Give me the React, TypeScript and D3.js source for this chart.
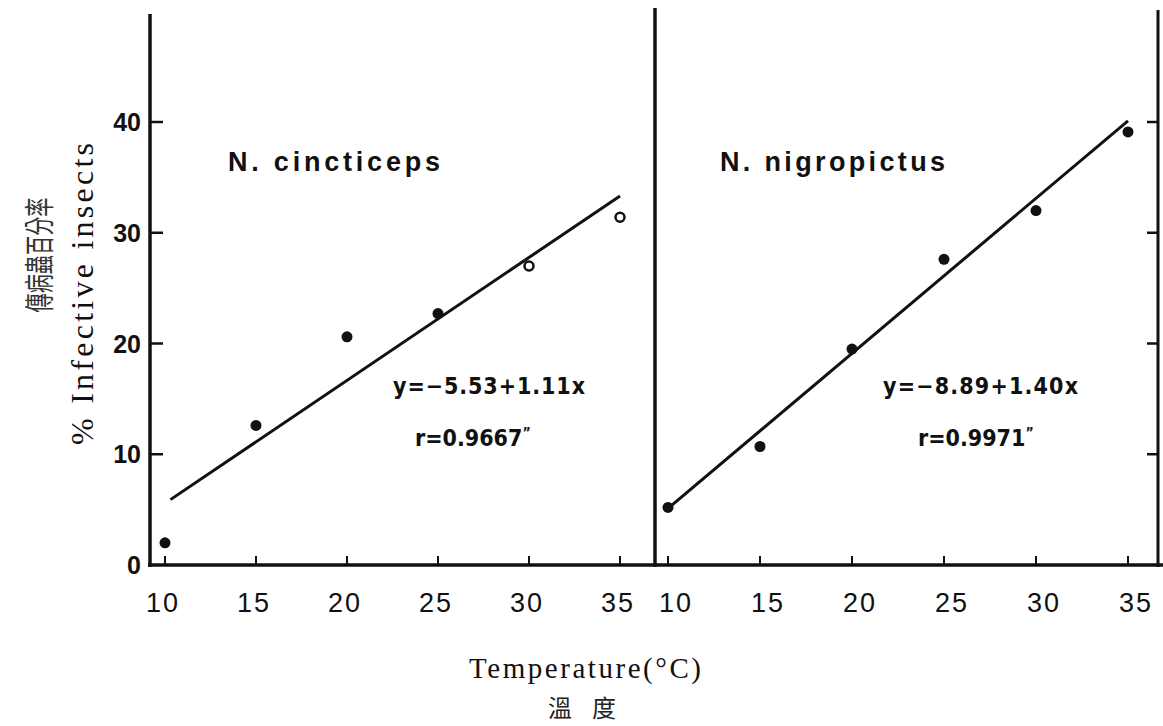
import * as d3 from "d3";

const temps = [10, 15, 20, 25, 30, 35];
const cincticeps = [2.0, 12.6, 20.6, 22.7, 27.0, 31.4];
const cincticepsOpen = [false, false, false, false, true, true];
const nigropictus = [5.2, 10.7, 19.5, 27.6, 32.0, 39.1];
const yTicks = [0, 10, 20, 30, 40];
// regression: intercept, slope, x range drawn
const fitC = [-5.53, 1.11];
const fitN = [-8.89, 1.40];
const rangeC = [10.3, 35];
const rangeN = [10.1, 35];

const W = 1163;
const H = 726;

const sans = "'Liberation Sans', Arial, sans-serif";
const cond = "'DejaVu Sans Condensed', 'Liberation Sans Narrow', 'DejaVu Sans', sans-serif";
const serif = "'Liberation Serif', 'DejaVu Serif', serif";
const cjk = "'Noto Sans CJK TC', 'Noto Sans CJK JP', serif";

export default function App() {
  const y = d3.scaleLinear().domain([0, 40]).range([565, 122]);
  const xL = d3.scaleLinear().domain([10, 35]).range([165, 620]);
  const xR = d3.scaleLinear().domain([10, 35]).range([668, 1128]);
  const base = y(0);

  const fitLine = (x: d3.ScaleLinear<number, number>, fit: number[], r: number[]) =>
    d3.line<number>()
      .x(d => x(d))
      .y(d => y(fit[0] + fit[1] * d))(r) as string;

  const ink = "#111";

  return (
    <svg width={W} height={H} style={{ position: "absolute", left: 0, top: 0, background: "#fff" }}>
      {/* axes frame */}
      <line x1={150} x2={150} y1={14} y2={base + 2} stroke={ink} strokeWidth={3.5} />
      <line x1={655} x2={655} y1={8} y2={base + 2} stroke={ink} strokeWidth={3.5} />
      <line x1={1158} x2={1158} y1={10} y2={base + 2} stroke={ink} strokeWidth={3} />
      <line x1={148} x2={W} y1={base} y2={base} stroke={ink} strokeWidth={3.5} />

      {/* left y ticks + labels */}
      {yTicks.map(t => (
        <g key={"yl" + t}>
          {t > 0 && <line x1={150} x2={163} y1={y(t)} y2={y(t)} stroke={ink} strokeWidth={2.5} />}
          <text x={141} y={y(t)} dy="0.36em" textAnchor="end" fontFamily={sans}
            fontWeight="bold" fontSize={25} fill={ink}>{t}</text>
        </g>
      ))}
      {/* right y ticks */}
      {yTicks.filter(t => t > 0).map(t => (
        <line key={"yr" + t} x1={1147} x2={1158} y1={y(t)} y2={y(t)} stroke={ink} strokeWidth={2.5} />
      ))}

      {/* x ticks + labels */}
      {temps.map(t => (
        <g key={"x" + t}>
          <line x1={xL(t)} x2={xL(t)} y1={base} y2={base - 9} stroke={ink} strokeWidth={2} />
          <line x1={xR(t)} x2={xR(t)} y1={base} y2={base - 9} stroke={ink} strokeWidth={2} />
          <text x={xL(t) - 2} y={612} textAnchor="middle" fontFamily={sans} fontSize={27}
            letterSpacing={2} fill={ink}>{t}</text>
          <text x={xR(t) + 8} y={612} textAnchor="middle" fontFamily={sans} fontSize={27}
            letterSpacing={2} fill={ink}>{t}</text>
        </g>
      ))}

      {/* regression lines */}
      <path d={fitLine(xL, fitC, rangeC)} stroke={ink} strokeWidth={3} fill="none" />
      <path d={fitLine(xR, fitN, rangeN)} stroke={ink} strokeWidth={3} fill="none" />

      {/* points */}
      {temps.map((t, i) => (
        cincticepsOpen[i]
          ? <circle key={"c" + t} cx={xL(t)} cy={y(cincticeps[i])} r={4.5} fill="#fff" stroke={ink} strokeWidth={2.5} />
          : <circle key={"c" + t} cx={xL(t)} cy={y(cincticeps[i])} r={5.5} fill={ink} />
      ))}
      {temps.map((t, i) => (
        <circle key={"n" + t} cx={xR(t)} cy={y(nigropictus[i])} r={5.5} fill={ink} />
      ))}

      {/* panel titles */}
      <text x={228} y={171} fontFamily={sans} fontWeight="bold" fontSize={27} textLength={212}
        lengthAdjust="spacing" fill={ink}>N. cincticeps</text>
      <text x={720} y={171} fontFamily={sans} fontWeight="bold" fontSize={27} textLength={225}
        lengthAdjust="spacing" fill={ink}>N. nigropictus</text>

      {/* equations */}
      <text x={393} y={394} fontFamily={cond} fontWeight="bold" fontSize={23} textLength={192} lengthAdjust="spacing" fill={ink}>y=−5.53+1.11x</text>
      <text x={415} y={446} fontFamily={cond} fontWeight="bold" fontSize={23} fill={ink}>r=0.9667<tspan dy={-9} fontSize={14}>”</tspan></text>
      <text x={883} y={394} fontFamily={cond} fontWeight="bold" fontSize={23} textLength={195} lengthAdjust="spacing" fill={ink}>y=−8.89+1.40x</text>
      <text x={918} y={446} fontFamily={cond} fontWeight="bold" fontSize={23} fill={ink}>r=0.9971<tspan dy={-9} fontSize={14}>”</tspan></text>

      {/* y axis titles */}
      <text transform="translate(93,294) rotate(-90)" textAnchor="middle" fontFamily={serif} fontSize={32}
        textLength={302} lengthAdjust="spacing" fill={ink}>% Infective insects</text>
      <text transform="translate(50,255) rotate(-90)" textAnchor="middle" fontFamily={cjk}
        fontSize={30} textLength={115} lengthAdjust="spacingAndGlyphs" fill="#333">傳病蟲百分率</text>

      {/* x axis titles */}
      <text x={585} y={678} textAnchor="middle" fontFamily={serif} fontSize={29} textLength={232}
        lengthAdjust="spacing" fill={ink}>Temperature(°C)</text>
      <text x={592} y={717} textAnchor="middle" fontFamily={cjk}
        fontSize={24} letterSpacing={20} fill="#222">溫度</text>
    </svg>
  );
}
